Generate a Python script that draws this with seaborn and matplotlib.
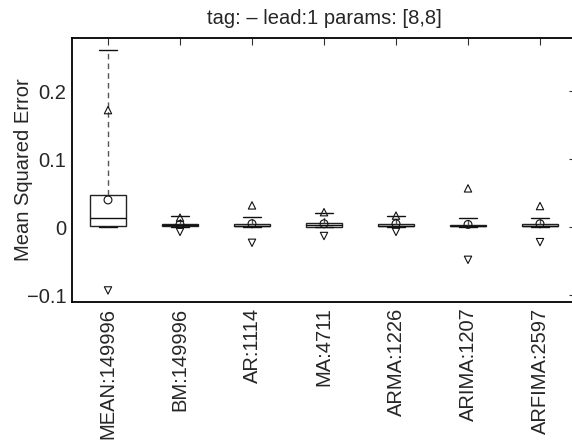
import numpy as np
import pandas as pd
import matplotlib
matplotlib.use("Agg")
import matplotlib.pyplot as plt
import seaborn as sns

models = ['MEAN:149996', 'BM:149996', 'AR:1114', 'MA:4711',
          'ARMA:1226', 'ARIMA:1207', 'ARFIMA:2597']
whis_low = [0.0, 0.0, 0.0, 0.0, 0.0, 0.0, 0.0]
q1 = [0.0015, 0.001, 0.001, 0.0005, 0.001, 0.001, 0.001]
median = [0.013, 0.003, 0.002, 0.003, 0.002, 0.002, 0.002]
q3 = [0.047, 0.005, 0.004, 0.006, 0.004, 0.003, 0.004]
whis_high = [0.261, 0.016, 0.015, 0.021, 0.016, 0.013, 0.014]
means = [0.040, 0.004, 0.005, 0.005, 0.005, 0.004, 0.005]
std_up = [0.172, 0.014, 0.032, 0.022, 0.017, 0.057, 0.031]
std_down = [-0.093, -0.007, -0.023, -0.013, -0.007, -0.048, -0.022]

# Fuenf-Punkte-Zusammenfassung als Langformat fuer sns.boxplot (whis=inf)
rows = []
for i, m in enumerate(models):
    for v in (whis_low[i], q1[i], median[i], q3[i], whis_high[i]):
        rows.append({'model': m, 'mse': v})
df = pd.DataFrame(rows)

sns.set_theme(style="white")
plt.rcParams['font.family'] = ['Liberation Sans', 'DejaVu Sans']
plt.rcParams['axes.unicode_minus'] = True

fig = plt.figure(figsize=(5.72, 4.47), dpi=100)
ax = fig.add_axes([72 / 572, 1 - 302 / 447, (576 - 72) / 572, (302 - 38) / 447])

sns.boxplot(data=df, x='model', y='mse', order=models, whis=np.inf, width=0.5,
            color='white', linecolor='#222222', linewidth=1.0, ax=ax,
            whiskerprops=dict(linestyle=(0, (4, 3)), color='#555555'),
            capprops=dict(color='#111111'),
            medianprops=dict(color='#111111', linewidth=1.0))

pos = np.arange(len(models))
ax.scatter(pos, means, marker='o', s=32, facecolors='none', edgecolors='#111111', linewidths=0.8, zorder=5)
ax.scatter(pos, std_up, marker='^', s=28, facecolors='none', edgecolors='#111111', linewidths=0.8, zorder=5)
ax.scatter(pos, std_down, marker='v', s=28, facecolors='none', edgecolors='#111111', linewidths=0.8, zorder=5)

ax.set_xlim(-0.5, 6.5)
ax.set_ylim(-0.110, 0.278)
ax.set_yticks([-0.1, 0, 0.1, 0.2])
ax.set_yticklabels(['\u22120.1', '0', '0.1', '0.2'])
ax.set_xlabel('')
ax.set_ylabel('Mean Squared Error', fontsize=14.5)
ax.yaxis.set_label_coords(-0.078, 0.5)
ax.set_title('tag: \u2013 lead:1 params: [8,8]', fontsize=14.5, pad=10)

ax.tick_params(axis='both', direction='in', top=True, right=True, length=5,
               width=0.8, color='#333333', labelsize=14.5)
ax.tick_params(axis='x', rotation=90, pad=4)
ax.tick_params(axis='y', pad=4)
for s in ax.spines.values():
    s.set_color('black')
    s.set_linewidth(1.3)

fig.savefig('out.png', dpi=100)
